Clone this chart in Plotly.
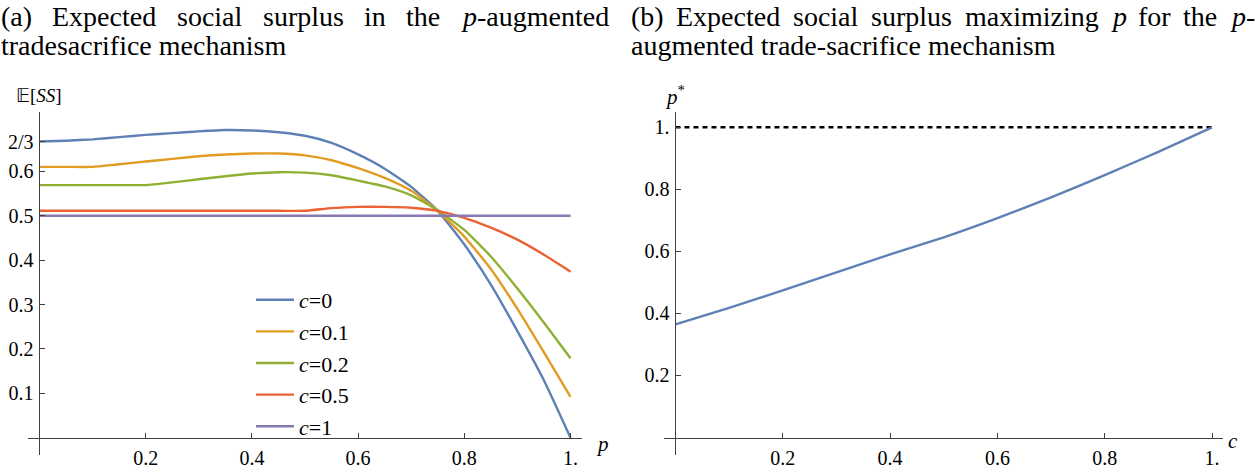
import plotly.graph_objects as go

# ---------------- data ----------------
p_grid = [0.0, 0.05, 0.10, 0.15, 0.20, 0.25, 0.30, 0.35, 0.40, 0.45, 0.50,
          0.55, 0.60, 0.65, 0.70, 0.75, 0.80, 0.85, 0.90, 0.95, 1.0]
ss_c0 = [0.667, 0.669, 0.672, 0.677, 0.682, 0.686, 0.690, 0.693, 0.692, 0.688, 0.680,
         0.664, 0.638, 0.606, 0.565, 0.511, 0.435, 0.345, 0.240, 0.129, 0.0]
ss_c01 = [0.610, 0.610, 0.610, 0.616, 0.622, 0.628, 0.634, 0.638, 0.640, 0.640, 0.636,
          0.625, 0.607, 0.585, 0.556, 0.511, 0.453, 0.380, 0.290, 0.192, 0.092]
ss_c02 = [0.569, 0.569, 0.569, 0.569, 0.569, 0.575, 0.582, 0.589, 0.595, 0.598, 0.597,
          0.591, 0.579, 0.566, 0.546, 0.512, 0.468, 0.408, 0.336, 0.259, 0.179]
ss_c05 = [0.511, 0.511, 0.511, 0.511, 0.511, 0.511, 0.511, 0.511, 0.511, 0.511, 0.511,
          0.517, 0.520, 0.520, 0.518, 0.511, 0.495, 0.473, 0.446, 0.412, 0.374]
ss_c1 = [0.5, 0.5, 0.5, 0.5, 0.5, 0.5, 0.5, 0.5, 0.5, 0.5, 0.5,
         0.5, 0.5, 0.5, 0.5, 0.5, 0.5, 0.5, 0.5, 0.5, 0.5]
series_names = ["<i>c</i>=0", "<i>c</i>=0.1", "<i>c</i>=0.2", "<i>c</i>=0.5", "<i>c</i>=1"]

c_grid = [0.0, 0.1, 0.2, 0.3, 0.4, 0.5, 0.6, 0.7, 0.8, 0.9, 1.0]
p_star = [0.365, 0.418, 0.474, 0.532, 0.590, 0.645, 0.707, 0.774, 0.846, 0.921, 1.0]
bound_c = [0.0, 1.0]
bound_p = [1.0, 1.0]

left_yticks = [0.1, 0.2, 0.3, 0.4, 0.5, 0.6, 2 / 3]
left_yticktext = ["0.1", "0.2", "0.3", "0.4", "0.5", "0.6", "2/3"]
xticks = [0.2, 0.4, 0.6, 0.8, 1.0]
xticktext = ["0.2", "0.4", "0.6", "0.8", "1."]
right_yticks = [0.2, 0.4, 0.6, 0.8, 1.0]
right_yticktext = ["0.2", "0.4", "0.6", "0.8", "1."]

colors = ["#5E81B5", "#E19C24", "#8FB032", "#EB6235", "#8778B3"]

# ---------------- layout geometry ----------------
W, H = 1256, 474
MT, MB = 112, 19
PH = H - MT - MB


def px_x(x):
    return x / W


def px_y(y):
    return (H - MB - y) / PH


L_XR = [-0.022, 1.022]
L_YR = [-0.039, 0.7336]
R_XR = [-0.021, 1.021]
R_YR = [-0.0564, 1.0493]
L_DOM = [px_x(27.8), px_x(582.2)]
R_DOM = [px_x(664.2), px_x(1223.3)]

AX = "#404040"
SERIF = "Liberation Serif"

fig = go.Figure()
for ys, name, col in zip([ss_c0, ss_c01, ss_c02, ss_c05, ss_c1], series_names, colors):
    fig.add_trace(go.Scatter(x=p_grid, y=ys, mode="lines", name=name,
                             legendgroup=name,
                             line=dict(color=col, width=2.4, shape="spline", smoothing=0.5),
                             xaxis="x", yaxis="y"))

fig.add_trace(go.Scatter(x=bound_c, y=bound_p, mode="lines", showlegend=False,
                         line=dict(color="black", width=2.5, dash="5px,4px"),
                         xaxis="x2", yaxis="y2"))
fig.add_trace(go.Scatter(x=c_grid, y=p_star, mode="lines", showlegend=False,
                         line=dict(color=colors[0], width=2.4, shape="spline", smoothing=0.5),
                         xaxis="x2", yaxis="y2"))


def xpos(dom, rng):
    return dom[0] + (0 - rng[0]) / (rng[1] - rng[0]) * (dom[1] - dom[0])


def ypos(rng):
    return (0 - rng[0]) / (rng[1] - rng[0])


def axis(**kw):
    d = dict(showgrid=False, zeroline=False, showline=True, linecolor=AX, linewidth=1,
             ticks="inside", ticklen=5, tickwidth=1, tickcolor=AX,
             tickfont=dict(family=SERIF, size=20, color="black"),
             ticklabelstandoff=2, fixedrange=True)
    d.update(kw)
    return d


fig.update_layout(
    width=W, height=H, autosize=False,
    font=dict(family=SERIF, size=20, color="black"),
    margin=dict(l=0, r=0, t=MT, b=MB),
    paper_bgcolor="white", plot_bgcolor="white",
    xaxis=axis(domain=L_DOM, range=L_XR, anchor="free", position=ypos(L_YR),
               tickvals=xticks, ticktext=xticktext),
    yaxis=axis(domain=[0, 1], range=L_YR, anchor="free", position=xpos(L_DOM, L_XR),
               tickvals=left_yticks, ticktext=left_yticktext),
    xaxis2=axis(domain=R_DOM, range=R_XR, anchor="free", position=ypos(R_YR),
                tickvals=xticks, ticktext=xticktext),
    yaxis2=axis(domain=[0, 1], range=R_YR, anchor="free", position=xpos(R_DOM, R_XR),
                tickvals=right_yticks, ticktext=right_yticktext),
    legend=dict(x=px_x(251), y=px_y(279), xanchor="left", yanchor="top",
                font=dict(family=SERIF, size=22, color="black"),
                bgcolor="rgba(0,0,0,0)", tracegroupgap=0, itemwidth=38),
    showlegend=True,
)

# ---------------- text ----------------
TIMES = {" ": 250, "(": 333, ")": 333, "-": 333, "a": 444, "b": 500, "c": 444, "d": 500,
         "e": 444, "f": 333, "g": 500, "h": 500, "i": 278, "k": 500, "l": 278, "m": 778,
         "n": 500, "o": 500, "p": 500, "r": 333, "s": 389, "t": 278, "u": 500, "x": 500,
         "z": 444, "E": 611}
TSIZE = 28


def width(s):
    return sum(TIMES.get(ch, 500) for ch in s) / 1000 * TSIZE


def justified(words, plain, x0, x1, yc):
    nat = sum(width(w) for w in plain)
    gap = (x1 - x0 - nat) / (len(words) - 1)
    x = x0
    for w, pw in zip(words, plain):
        fig.add_annotation(x=px_x(x), y=px_y(yc), xref="paper", yref="paper", text=w,
                           showarrow=False, xanchor="left", yanchor="middle",
                           font=dict(family=SERIF, size=TSIZE, color="black"), borderpad=0)
        x += width(pw) + gap


def line(text, x0, yc):
    fig.add_annotation(x=px_x(x0), y=px_y(yc), xref="paper", yref="paper", text=text,
                       showarrow=False, xanchor="left", yanchor="middle",
                       font=dict(family=SERIF, size=TSIZE, color="black"), borderpad=0)


wa = ["(a)", "Expected", "social", "surplus", "in", "the", "<i>p</i>-augmented"]
justified(wa, [w.replace("<i>", "").replace("</i>", "") for w in wa], 0, 606, 16)
line("tradesacrifice mechanism", 0, 45)
wb = ["(b)", "Expected", "social", "surplus", "maximizing", "<i>p</i>", "for", "the", "<i>p</i>-"]
justified(wb, [w.replace("<i>", "").replace("</i>", "") for w in wb], 630, 1252, 16)
line("augmented trade-sacrifice mechanism", 630, 45)


def label(text, x, y, size=21):
    fig.add_annotation(x=px_x(x), y=px_y(y), xref="paper", yref="paper", text=text,
                       showarrow=False, xanchor="center", yanchor="middle",
                       font=dict(family=SERIF, size=size, color="black"))


label("𝔼[<i>SS</i>]", 39, 95, 19)
label("<i>p</i>", 602, 444)
label("<i>p</i><sup>*</sup>", 675, 95)
label("<i>c</i>", 1233, 441)

fig.write_html("out.html")
